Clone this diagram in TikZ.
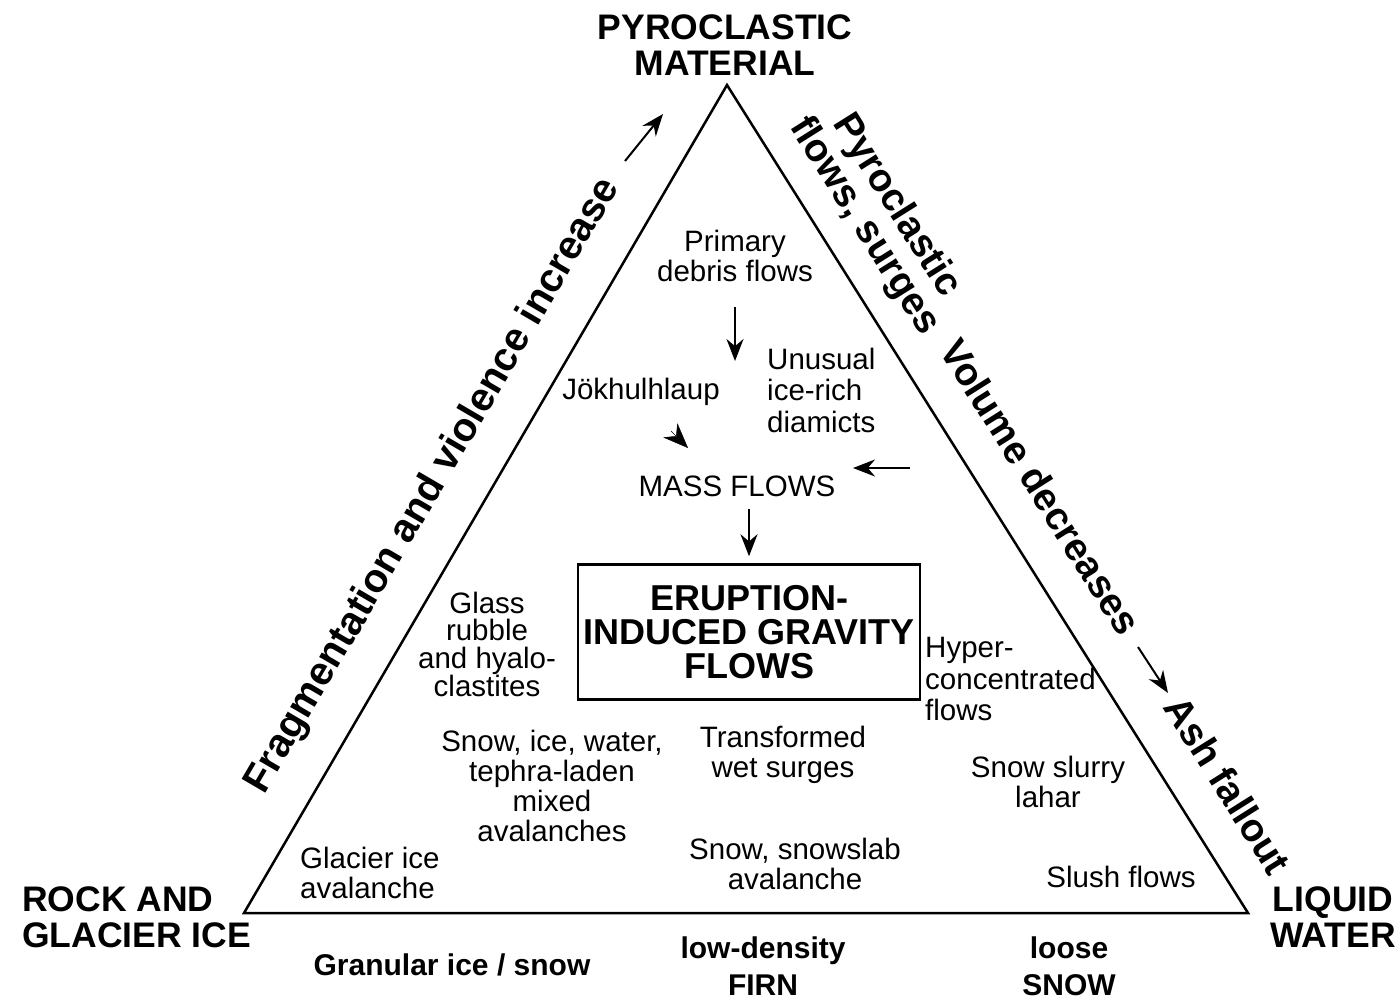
\documentclass[tikz,border=0pt]{standalone}
\usepackage{fontspec}
\setmainfont{Liberation Sans}
\usetikzlibrary{arrows.meta}

\tikzset{
  txt/.style={font=\fontsize{29.5}{30}\selectfont, align=center, inner sep=0pt},
  corner/.style={font=\bfseries\fontsize{35.5}{36}\selectfont, align=center, inner sep=0pt},
  base/.style={font=\bfseries\fontsize{30}{37}\selectfont, align=center, inner sep=0pt},
  side/.style={font=\bfseries\fontsize{39}{38}\selectfont, align=center, inner sep=0pt},
  arr/.style={-{Stealth[length=22pt,width=17pt]}, line width=2pt},
}

\begin{document}
\begin{tikzpicture}[x=1pt,y=-1pt]
      \useasboundingbox (0,0) rectangle (1400,1005);

      % triangle
      \coordinate (top) at (727,85);
      \coordinate (bl) at (244,913);
      \coordinate (br) at (1248,913);
      \draw[line width=2.5pt] (top) -- (bl) -- (br) -- cycle;

      % corners
      \node[corner] (pyro) at (725,45) {PYROCLASTIC\\MATERIAL};
      \node[corner,align=left,anchor=west] (rock) at (22,917) {ROCK AND\\GLACIER ICE};
      \node[corner] (water) at (1333,917) {LIQUID\\WATER};

      % below the base
      \node[base] (gran) at (452,965) {Granular ice / snow};
      \node[base] (firn) at (763,966) {low-density\\FIRN};
      \node[base] (loose) at (1069,966) {loose\\SNOW};

      % along the sides
      \node[side,font=\bfseries\fontsize{40}{38}\selectfont,rotate=59.7] (frag) at (433,486) {Fragmentation and violence increase};
      \node[side,rotate=-57.8] (pyroflow) at (880,216) {Pyroclastic\\flows, surges};
      \node[side,rotate=-57.8] (volume) at (1041,487) {Volume decreases};
      \node[side,rotate=-57.8] (ash) at (1228,785) {Ash fallout};
      \coordinate (f1) at (625,161);
      \coordinate (f2) at (663,114);
      \coordinate (v1) at (1138,647);
      \coordinate (v2) at (1168,693);
      \draw[arr] (f1) -- (f2);
      \draw[arr] (v1) -- (v2);

      % inside
      \node[txt] (primary) at (735,256) {Primary\\debris flows};
      \node[txt,font=\fontsize{29.5}{31.5}\selectfont,align=left,anchor=west] (unusual) at (767,390) {Unusual\\ice-rich\\diamicts};
      \node[txt] (jokul) at (641,392) {Jökhulhlaup};
      \node[txt] (mass) at (737,486) {MASS FLOWS};
      \node[draw,line width=2.5pt,minimum width=342pt,minimum height=135pt,
            font=\bfseries\fontsize{36}{34}\selectfont,align=center] (eigf) at (749,632) {ERUPTION-\\INDUCED GRAVITY\\FLOWS};
      \node[txt,font=\fontsize{29.5}{27.7}\selectfont] (glass) at (487,644) {Glass\\rubble\\and hyalo-\\clastites};
      \node[txt,font=\fontsize{29.5}{31.5}\selectfont,align=left,anchor=west] (hyper) at (925,679) {Hyper-\\concentrated\\flows};
      \node[txt] (mixed) at (552,786) {Snow, ice, water,\\tephra-laden\\mixed\\avalanches};
      \node[txt] (wetsurge) at (783,755) {Transformed\\wet surges};
      \node[txt] (slurry) at (1048,782) {Snow slurry\\lahar};
      \node[txt,align=left,anchor=west] (glacier) at (300,873) {Glacier ice\\avalanche};
      \node[txt] (snowslab) at (795,864) {Snow, snowslab\\avalanche};
      \node[txt] (slush) at (1121,877) {Slush flows};

      \coordinate (p1) at (735,307);
      \coordinate (p2) at (735,361);
      \coordinate (j1) at (671,431);
      \coordinate (j2) at (688,448);
      \coordinate (d1) at (910,468);
      \coordinate (d2) at (853,468);
      \draw[arr] (p1) -- (p2);
      \draw[-{Stealth[length=25pt,width=20pt]}] (j1) -- (j2);
      \draw[arr] (d1) -- (d2);
      \draw[arr,shorten >=7pt] ([yshift=-12pt]mass.south -| eigf.north) -- (eigf.north);
    \end{tikzpicture}
\end{document}
